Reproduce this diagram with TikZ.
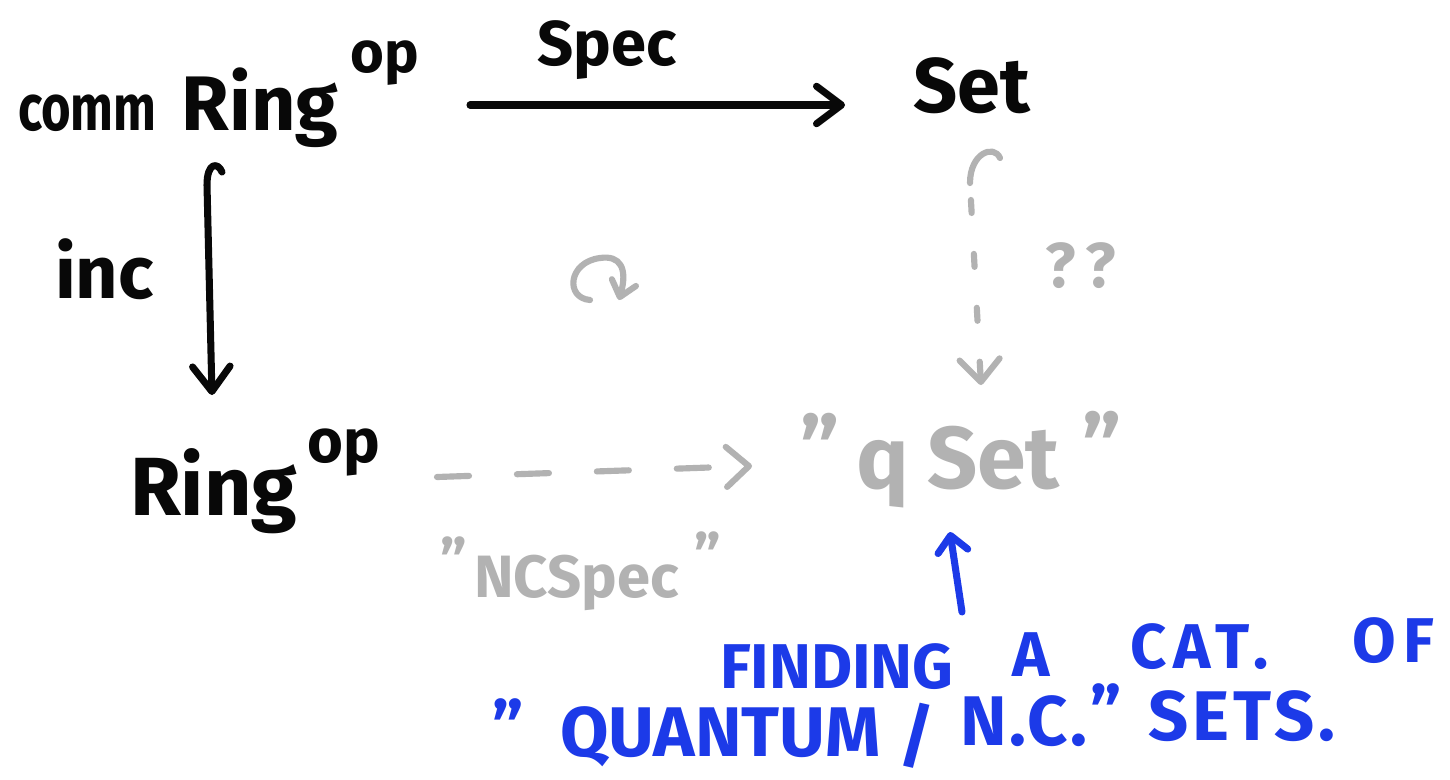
\documentclass[tikz,border=0pt]{standalone}
\usepackage{fontspec}
\setmainfont{Fira Sans}
\usetikzlibrary{arrows.meta,calc}
\definecolor{ink}{RGB}{8,8,8}
\definecolor{pencil}{RGB}{178,178,178}
\definecolor{marker}{RGB}{28,58,232}
\begin{document}
\begin{tikzpicture}[x=0.02cm,y=-0.02cm,
  lbl/.style={inner sep=0pt, outer sep=0pt},
  blk/.style={lbl, text=ink, font=\bfseries},
  gry/.style={lbl, text=pencil, font=\bfseries},
  blu/.style={lbl, text=marker, font=\bfseries\fontsize{36}{36}\selectfont, anchor=base west},
  blutwo/.style={blu, font=\bfseries\fontsize{40}{40}\selectfont},
  blackarrow/.style={draw=ink, line width=4pt, line cap=round, line join=round,
     -{Straight Barb[length=0.5cm, width=0.75cm, line cap=round, line join=round]}},
  grayhook/.style={draw=pencil, line width=3.5pt, line cap=round, line join=round},
  grayarrow/.style={draw=pencil, line width=3.5pt, line cap=round, line join=round,
     -{Straight Barb[length=0.45cm, width=0.8cm, line cap=round, line join=round]}},
  bluearrow/.style={draw=marker, line width=4pt, line cap=round, line join=round,
     -{Straight Barb[length=0.32cm, width=0.6cm, line cap=round, line join=round]}}
]
\fill[white] (0,0) rectangle (1450,779);
\useasboundingbox (0,0) rectangle (1450,779);

% black objects
\node[blk, anchor=base west, font=\bfseries\fontsize{44}{44}\selectfont] (cr) at (18,130)
  {\scalebox{0.78}[1]{\fontsize{37}{37}\selectfont comm}\hspace{0.5cm}Ring\hspace{0.25cm}\raisebox{1.16cm}{\fontsize{33}{33}\selectfont op}};
\node[blk, anchor=base, font=\bfseries\fontsize{44}{44}\selectfont] (set) at (972,112) {Set};
\node[blk, anchor=base west, font=\bfseries\fontsize{47}{47}\selectfont] (r) at (130,515)
  {Ring\hspace{0.2cm}\raisebox{1.06cm}{\fontsize{35}{35}\selectfont op}};
\node[blk, anchor=base, font=\bfseries\fontsize{36}{36}\selectfont] (spec) at (607,65) {Spec};
\node[blk, anchor=base west, font=\bfseries\fontsize{42}{42}\selectfont] (inc) at (55,298) {inc};

% gray objects
\node[gry, anchor=base west, font=\bfseries\fontsize{50}{50}\selectfont] (qset) at (800,488)
  {\raisebox{0.15cm}{''}\hspace{0.35cm}q\hspace{0.35cm}Set\hspace{0.45cm}\raisebox{0.2cm}{''}};
\node[gry, anchor=base west, font=\bfseries\fontsize{34}{34}\selectfont] (ncspec) at (440,597)
  {\raisebox{0.3cm}{''}\hspace{0.15cm}NCSpec\hspace{0.3cm}\raisebox{0.4cm}{''}};
\node[gry, anchor=base west, font=\bfseries\fontsize{36}{36}\selectfont] (qq) at (1045,287) {?\hspace{0.2cm}?};

% blue text
\node[blu] (w1) at (720,688) {FINDING};
\node[blu] (w2) at (1012,676) {A};
\node[blu] (w3) at (1130,668) {\addfontfeature{LetterSpace=12}CAT.};
\node[blu] (w4) at (1352,662) {\addfontfeature{LetterSpace=12}OF};
\node[blutwo] (w5) at (492,752) {''};
\node[blutwo] (w6) at (560,756) {QUANTUM};
\node[blutwo] (w7) at (898,760) {/};
\node[blutwo] (w8) at (960,745) {\addfontfeature{LetterSpace=4}N.C.};
\node[blutwo] (w9) at (1090,737) {''};
\node[blutwo] (w10) at (1148,740) {\addfontfeature{LetterSpace=6}SETS.};

% Spec arrow
\draw[blackarrow] ([shift={(452,-25)}]cr.base west) -- ([shift={(-127,-7)}]set.base);

% inc hooked arrow
\coordinate (hook1) at ([shift={(204,42)}]cr.base west);
\draw[blackarrow] (hook1) .. controls +(-4,-10) and +(0,-23) .. ++(-15,13)
   -- ([shift={(82,-120)}]r.base west);

% ?? hooked dashed arrow
\coordinate (hook2) at ([shift={(28,46)}]set.base);
\draw[grayhook] (hook2) .. controls +(-6,-14) and +(0,-30) .. ++(-30,25) coordinate (hook2end);
\draw[grayarrow, dash pattern=on 0.26cm off 0.82cm, dash phase=0.74cm]
   (hook2end) -- ([shift={(181,-103)}]qset.base west);

% NCSpec dashed arrow
\draw[grayarrow, dash pattern=on 0.64cm off 0.96cm]
   ([shift={(307,-38)}]r.base west) -- ([shift={(-48,-22)}]qset.base west);

% commutation symbol
\draw[grayarrow, -{Straight Barb[length=0.3cm, width=0.5cm, line cap=round, line join=round]}]
   (590,300) .. controls (565,298) and (568,262) .. (600,258)
   .. controls (620,255) and (628,268) .. (619,300);

% blue arrow
\draw[bluearrow] ([shift={(242,-76)}]w1.base west) -- ([shift={(150,44)}]qset.base west);
\end{tikzpicture}
\end{document}
